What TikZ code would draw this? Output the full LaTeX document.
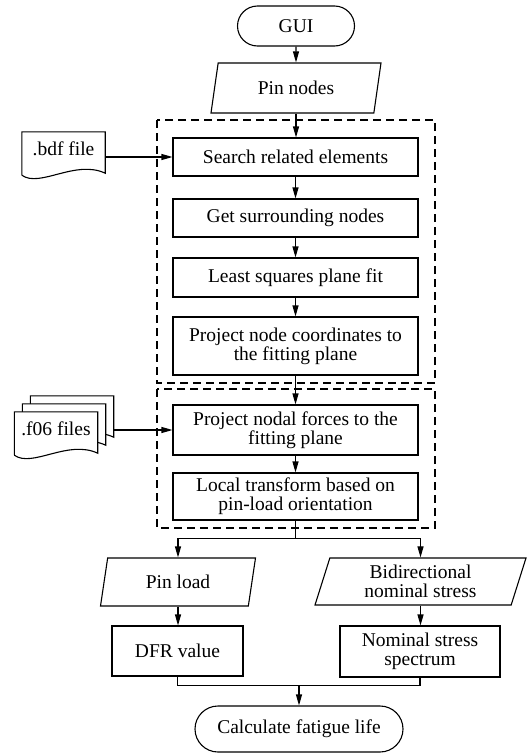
\documentclass[tikz,border=0pt]{standalone}
\usepackage{fontspec}
\setmainfont{Liberation Serif}
\usetikzlibrary{arrows.meta, positioning, shapes.geometric, shapes.misc, backgrounds}

\tikzset{
    every node/.style={font=\fontsize{19.5}{19}\selectfont, align=center},
    line/.style={line width=1.1pt},
    arr/.style={line width=1.1pt, -{Triangle[length=11pt,width=6pt]}},
    process/.style={draw, line width=1.1pt, rectangle, minimum width=245pt, inner sep=2pt},
    io/.style={draw, line width=1.1pt, trapezium, trapezium left angle=68, trapezium right angle=112, trapezium stretches body, inner sep=2pt},
    terminal/.style={draw, line width=1.1pt, rounded rectangle, inner sep=2pt},
    docbox/.style={minimum width=83pt, minimum height=43pt, text depth=10pt, inner sep=0pt},
    groupbox/.style={line width=1.1pt, dash pattern=on 8pt off 5pt}
}

\begin{document}
\begin{tikzpicture}[x=1pt, y=-1pt]
    \useasboundingbox (0,0) rectangle (527,755);

    % Main column
    \node[terminal, minimum width=121pt, minimum height=40pt] (gui) at (296,26) {GUI};
    \node[io, minimum width=170pt, minimum height=50pt] (pinnodes) at (296,88) {Pin nodes};
    \node[process, minimum height=38pt] (search) at (295.5,157) {Search related elements};
    \node[process, minimum height=38pt] (surround) at (295.5,218) {Get surrounding nodes};
    \node[process, minimum height=39pt] (lsq) at (295.5,277.5) {Least squares plane fit};
    \node[process, minimum height=58pt] (projcoord) at (295.5,346) {Project node coordinates to\\the fitting plane};
    \node[process, minimum height=50pt] (projforce) at (295.5,430) {Project nodal forces to the\\fitting plane};
    \node[process, minimum height=47pt] (localtf) at (295.5,496.5) {Local transform based on\\pin-load orientation};

    % Two branches
    \node[io, minimum width=155pt, minimum height=48pt] (pinload) at (178,582) {Pin load};
    \node[io, minimum width=211pt, minimum height=47pt] (bidir) at (420.5,581.5) {Bidirectional\\nominal stress};
    \node[process, minimum width=131pt, minimum height=50pt] (dfr) at (177.5,651) {DFR value};
    \node[process, minimum width=160pt, minimum height=51pt] (nomspec) at (420,651.5) {Nominal stress\\spectrum};
    \node[terminal, minimum width=212pt, minimum height=46pt] (fatigue) at (299,729) {Calculate fatigue life};

    % Groups
    \draw[groupbox] (157,120) rectangle (435,383);
    \draw[groupbox] (157,389) rectangle (435,528);

    % Input files
    \node[docbox] (bdf) at (63.5,153.5) {.bdf file};
    \draw[line] (bdf.south west) -- (bdf.north west) -- (bdf.north east) -- ([yshift=2pt]bdf.south east)
        .. controls +(-30,-14) and +(18,13) .. (bdf.south west);

    \node[docbox] (f06) at (56,433.5) {.f06 files};
    \begin{scope}[on background layer]
        \foreach \s in {16,8,0}
            \draw[line, fill=white] ([shift={(\s,-\s)}]f06.south west) -- ([shift={(\s,-\s)}]f06.north west)
                -- ([shift={(\s,-\s)}]f06.north east) -- ([shift={(\s,-\s-2)}]f06.south east)
                .. controls +(-30,-14) and +(18,13) .. ([shift={(\s,-\s)}]f06.south west);
    \end{scope}
    \coordinate (f06r) at ([xshift=16pt]f06.east);

    % Connectors
    \draw[arr] (gui) -- (pinnodes);
    \draw[arr] (pinnodes.south) -- (pinnodes.south |- search.north);
    \draw[arr] (search) -- (surround);
    \draw[arr] (surround) -- (lsq);
    \draw[arr] (lsq) -- (projcoord);
    \draw[arr] (projcoord) -- (projforce);
    \draw[arr] (projforce) -- (localtf);
    \draw[arr] (bdf.east |- search.west) -- (search.west);
    \draw[arr] (f06r |- projforce.west) -- (projforce.west);

    \draw[arr] (localtf.south) -- ++(0,18) coordinate (split) -| (pinload.north);
    \draw[arr] (split) -| (bidir.north);
    \draw[arr] (pinload.south) -- (pinload.south |- dfr.north);
    \draw[arr] (bidir.south) -- (bidir.south |- nomspec.north);

    \coordinate (merge) at ([yshift=20pt]fatigue.north);
    \draw[line] (dfr.south) |- (merge) -| (nomspec.south);
    \draw[arr] (merge) -- (fatigue.north);
\end{tikzpicture}
\end{document}
